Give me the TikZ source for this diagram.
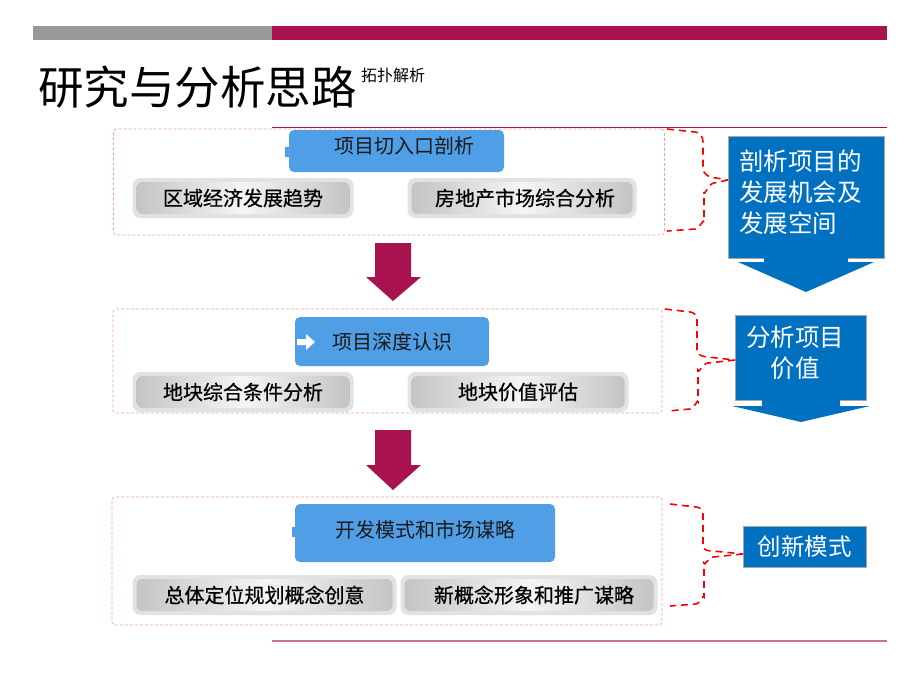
\documentclass[tikz,border=0pt]{standalone}
\usepackage{fontspec}
\newfontfamily\cjk{Noto Sans CJK SC}
\newfontfamily\cjkb[FakeBold=0.6]{Noto Sans CJK SC}
\definecolor{magbar}{HTML}{A8134F}
\definecolor{graybar}{HTML}{999999}
\definecolor{headblue}{HTML}{509FE6}
\definecolor{callblue}{HTML}{0070C0}
\definecolor{pinkdash}{HTML}{F5A0A0}
\definecolor{bracered}{HTML}{FF0000}
\definecolor{bottomline}{HTML}{D0709A}
\definecolor{btnouter}{HTML}{E2E2E2}
\definecolor{btninner}{HTML}{C4C4C4}
\begin{document}
\begin{tikzpicture}[x=1pt,y=-1pt,font=\cjk,
  groupbox/.style={draw=pinkdash,dashed,dash pattern=on 3pt off 2pt,line width=0.6pt,rounded corners=3pt},
  headbox/.style={fill=headblue,rounded corners=5pt,inner sep=0pt,text=black!90,font=\cjk\fontsize{20}{23}\selectfont},
  headtext/.style={inner sep=0pt,text=black!90,font=\cjk\fontsize{20}{23}\selectfont},
  btnout/.style={fill=btnouter,rounded corners=8pt,inner sep=0pt},
  btnin/.style={left color=btninner,right color=btninner,middle color=white!96!black,rounded corners=6pt,inner sep=0pt,text=black,font=\cjkb\fontsize{20}{23}\selectfont},
  brace/.style={draw=bracered,dashed,dash pattern=on 7pt off 5pt,line width=1.6pt},
  calloutfill/.style={fill=callblue},
  calloutedge/.style={draw=gray!70,line width=1pt},
  calltext/.style={text=white,inner sep=0pt,font=\cjk\fontsize{24.5}{31}\selectfont},
  downarrow/.style={fill=magbar}]
\useasboundingbox (0,0) rectangle (920,690);
\fill[white] (0,0) rectangle (920,690);

% top bars
\fill[graybar] (33,26) rectangle (272,40);
\fill[magbar] (272,26) rectangle (887,40);

% title
\node[anchor=west,inner sep=0pt,font=\cjk\fontsize{45.5}{50}\selectfont] (title) at (38,87) {研究与分析思路};
\node[anchor=west,inner sep=0pt,font=\cjk\fontsize{16}{18}\selectfont] (subtitle) at (361,75) {拓扑解析};

% rules
\coordinate (r1a) at (272,127); \coordinate (r1b) at (887,127);
\draw[magbar,line width=1pt] (r1a) -- (r1b);
\coordinate (r2a) at (272,641); \coordinate (r2b) at (887,641);
\draw[bottomline,line width=1.5pt] (r2a) -- (r2b);

% group 1
\node[groupbox,minimum width=551pt,minimum height=106pt] (g1) at (389,182) {};
\fill[headblue] (285,147) rectangle (292,157);
\node[headbox,minimum width=215pt,minimum height=42pt] (h1) at (396.5,151) {};
\node[headtext] (h1t) at (404,146) {项目切入口剖析};
\node[btnout,minimum width=221pt,minimum height=40pt] (b1o) at (243,198) {};
\node[btnin,minimum width=213pt,minimum height=32pt] (b1) at (243,198) {区域经济发展趋势};
\node[btnout,minimum width=229pt,minimum height=40pt] (b2o) at (522,198) {};
\node[btnin,minimum width=221pt,minimum height=32pt] (b2) at (522,198) {\hspace*{6pt}房地产市场综合分析};

% group 2
\node[groupbox,minimum width=549pt,minimum height=104pt] (g2) at (387.5,361) {};
\node[headbox,minimum width=194pt,minimum height=49pt] (h2) at (392,341.5) {项目深度认识};
\fill[white] (297,339) rectangle (306,345) -- (306,334) -- (315,342) -- (306,350) -- (306,345);
\node[btnout,minimum width=221pt,minimum height=40pt] (b3o) at (243,392) {};
\node[btnin,minimum width=213pt,minimum height=32pt] (b3) at (243,392) {地块综合条件分析};
\node[btnout,minimum width=221pt,minimum height=40pt] (b4o) at (518,392) {};
\node[btnin,minimum width=213pt,minimum height=32pt] (b4) at (518,392) {地块价值评估};

% group 3
\node[groupbox,minimum width=550pt,minimum height=128pt] (g3) at (387,561) {};
\fill[headblue] (292,527) rectangle (298,537);
\node[headbox,minimum width=260pt,minimum height=58pt] (h3) at (425,533) {};
\node[headtext] (h3t) at (425,530) {开发模式和市场谋略};
\node[btnout,minimum width=264pt,minimum height=40pt] (b5o) at (264.5,595) {};
\node[btnin,minimum width=256pt,minimum height=32pt] (b5) at (264.5,595) {总体定位规划概念创意};
\node[btnout,minimum width=257pt,minimum height=40pt] (b6o) at (529,595) {};
\node[btnin,minimum width=249pt,minimum height=32pt] (b6) at (529,595) {\hspace*{10pt}新概念形象和推广谋略};

% magenta arrows
\fill[downarrow] (375,243) -- (411,243) -- (411,277) -- (421,277) -- (393,301) -- (366,277) -- (375,277) -- cycle;
\fill[downarrow] (375,430) -- (411,430) -- (411,465) -- (421,465) -- (393,490) -- (366,465) -- (375,465) -- cycle;

% callouts
\fill[calloutfill] (728,136) -- (884,136) -- (884,258) -- (848,258) -- (848,262) -- (874,262) -- (806,292) -- (738,262) -- (764,262) -- (764,258) -- (728,258) -- cycle;
\draw[calloutedge] (764,258) -- (728,258) -- (728,136) -- (884,136) -- (884,258) -- (848,258);
\node[calltext,anchor=north west,align=left] (c1) at (739,150) {剖析项目的\\发展机会及\\发展空间};

\fill[calloutfill] (735,315) -- (866,315) -- (866,400) -- (840,400) -- (840,406) -- (870,406) -- (801,422) -- (732,406) -- (762,406) -- (762,400) -- (735,400) -- cycle;
\draw[calloutedge] (762,400) -- (735,400) -- (735,315) -- (866,315) -- (866,400) -- (840,400);
\node[calltext,align=center] (c2) at (795,353) {分析项目\\价值};

\node[fill=callblue,draw=gray!70,line width=1pt,minimum width=123pt,minimum height=41pt,inner sep=0pt,text=white,font=\cjk\fontsize{23.5}{26}\selectfont] (c3) at (804.5,546.5) {创新模式};

% braces
\draw[brace] (667,129) -- (695,132) to[out=0,in=90] (703,142) -- (703,168) to[out=-90,in=180] (716,178) -- (728,180);
\draw[brace] (728,180) -- (714,183) to[out=180,in=-90] (704,192) -- (704,222) to[out=90,in=0] (695,229) -- (667,231);

\draw[brace] (665,309) -- (690,312) to[out=0,in=90] (697,320) -- (697,350) to[out=-90,in=180] (708,357) -- (735,360);
\draw[brace] (735,360) -- (708,363) to[out=180,in=-90] (698,370) -- (698,402) to[out=90,in=0] (690,409) -- (668,411);

\draw[brace] (670,504) -- (696,507) to[out=0,in=90] (703,514) -- (703,546) to[out=-90,in=180] (713,551) -- (743,554);
\draw[brace] (743,554) -- (713,557) to[out=180,in=-90] (704,563) -- (704,597) to[out=90,in=0] (696,604) -- (670,606);
\end{tikzpicture}
\end{document}
